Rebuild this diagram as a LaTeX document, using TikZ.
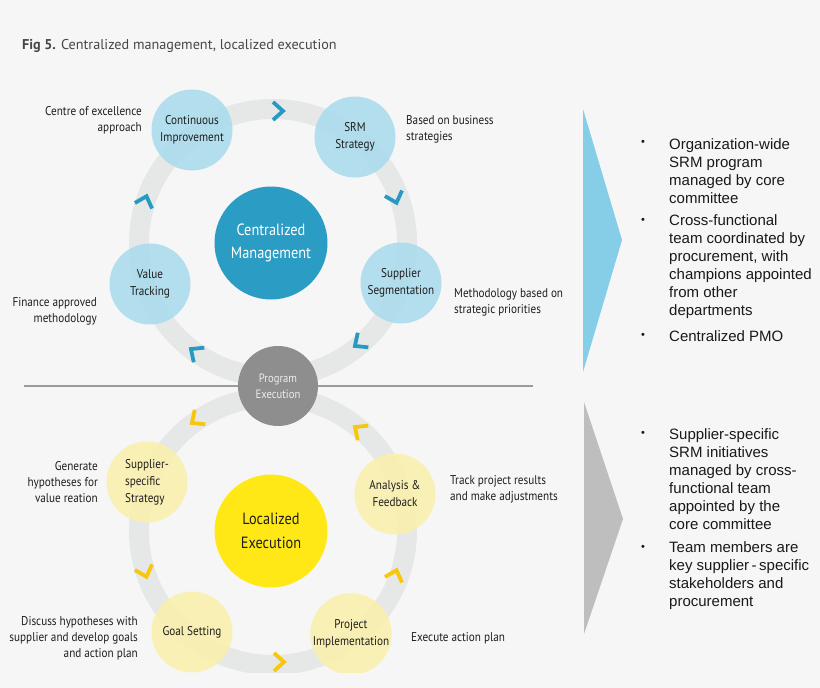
\documentclass[tikz,border=0pt]{standalone}
\usepackage{fontspec}
\setmainfont[FakeStretch=0.88]{PT Sans}
\newfontfamily\titlef{PT Sans}
\newfontfamily\arialf{Liberation Sans}
\usetikzlibrary{calc}
\definecolor{bgc}{RGB}{246,246,246}
\definecolor{ringc}{RGB}{230,232,232}
\definecolor{bluecirc}{RGB}{168,218,236}
\definecolor{bluemain}{RGB}{43,157,196}
\definecolor{chevb}{RGB}{40,154,194}
\definecolor{yelcirc}{RGB}{250,240,170}
\definecolor{yelmain}{RGB}{255,232,22}
\definecolor{chevy}{RGB}{246,199,10}
\definecolor{pegray}{RGB}{142,142,142}
\definecolor{linec}{RGB}{155,155,155}
\definecolor{triblue}{RGB}{134,205,232}
\definecolor{trigray}{RGB}{190,190,190}
\definecolor{labc}{RGB}{30,30,30}
\definecolor{titlec}{RGB}{70,70,70}
\tikzset{
  chevron/.pic={\draw[line width=3.8pt, line join=miter] (-5,-9) -- (5,0) -- (-5,9);},
  smallc/.style={circle, minimum size=81pt, inner sep=0pt, align=center, fill opacity=0.85, text opacity=1, text=labc, font=\fontsize{12.7}{17}\selectfont},
  smallb/.style={smallc, fill=bluecirc},
  smally/.style={smallc, fill=yelcirc},
  maincirc/.style={circle, minimum size=113pt, inner sep=0pt, align=center, font=\fontsize{16.3}{23.5}\selectfont},
  lbl/.style={inner sep=0pt, text=labc, font=\fontsize{12.7}{16}\selectfont},
  rtext/.style={inner sep=0pt, anchor=west, align=left, text=black!90, font=\arialf\fontsize{15}{18}\selectfont},
  bul/.style={inner sep=0pt, text=black!90, font=\arialf\fontsize{11}{18}\selectfont},
}
\begin{document}
\begin{tikzpicture}[x=1pt,y=-1pt]
\fill[bgc] (0,0) rectangle (820,688);
\useasboundingbox (0,0) rectangle (820,688);
% title
\node[anchor=west, inner sep=0pt, text=titlec, font=\titlef\fontsize{14.2}{17}\selectfont] (title) at (22,46) {\textbf{Fig 5.} Centralized management, localized execution};
\begin{scope}
\clip (0,0) rectangle (560,672);
% rings
\draw[ringc, line width=20pt] (273,243) circle[radius=134];
\draw[ringc, line width=20pt] (273,531) circle[radius=134];
% chevrons top (clockwise)
\pic[color=chevb, rotate=0] at (278,111) {chevron};
\pic[color=chevb, rotate=-72] at (395,198) {chevron};
\pic[color=chevb, rotate=-144] at (359,343) {chevron};
\pic[color=chevb, rotate=144] at (195,352) {chevron};
\pic[color=chevb, rotate=72] at (145,201) {chevron};
% chevrons bottom (counter-clockwise)
\pic[color=chevy, rotate=216] at (196,420) {chevron};
\pic[color=chevy, rotate=-72] at (145,572) {chevron};
\pic[color=chevy, rotate=0] at (279,662) {chevron};
\pic[color=chevy, rotate=72] at (395,575) {chevron};
\pic[color=chevy, rotate=144] at (359,430) {chevron};
% top small circles
\node[smallb] (ci) at (192,130) {Continuous\\Improvement};
\node[smallb] (srm) at (355,137) {SRM\\Strategy};
\node[smallb] (ss) at (401,283) {Supplier\\Segmentation};
\node[smallb] (vt) at (150,284) {Value\\Tracking};
% bottom small circles
\node[smally] (sss) at (147,482) {\begin{tabular}{@{}l@{}}Supplier-\\specific\\Strategy\end{tabular}};
\node[smally] (af) at (395,494) {Analysis \&\\Feedback};
\node[smally] (gs) at (192,632) {Goal Setting};
\node[smally] (pi) at (351,634) {Project\\Implementation};
% main circles
\node[maincirc, fill=bluemain, text=white] (cm) at (271,243) {Centralized\\Management};
\node[maincirc, fill=yelmain, text=labc] (le) at (271,531) {Localized\\Execution};
% separator
\coordinate (sepl) at (24,386);
\coordinate (sepr) at (533,386);
\draw[linec, line width=1.2pt] (sepl) -- (sepr);
% program execution
\node[circle, minimum size=80pt, inner sep=0pt, fill=pegray, text=white!93!black, align=center, font=\fontsize{12.1}{16}\selectfont] (pe) at (278,386) {Program\\Execution};
\end{scope}
% labels
\node[lbl, anchor=east, align=right] (l1) at (142,120) {Centre of excellence\\approach};
\node[lbl, anchor=west, align=left] (l2) at (406,129) {Based on business\\strategies};
\node[lbl, anchor=west, align=left] (l3) at (454,302) {Methodology based on\\strategic priorities};
\node[lbl, anchor=east, align=right] (l4) at (97,311) {Finance approved\\methodology};
\node[lbl, anchor=east, align=right] (l5) at (98,482) {Generate\\hypotheses for\\value reation};
\node[lbl, anchor=west, align=left] (l6) at (450,489) {Track project results\\and make adjustments};
\node[lbl, anchor=east, align=right] (l7) at (138,638) {Discuss hypotheses with\\supplier and develop goals\\and action plan};
\node[lbl, anchor=west, align=left] (l8) at (411,638) {Execute action plan};
% right arrows
\fill[triblue] (583,109) -- (622,240) -- (583,372) -- cycle;
\fill[trigray] (584,402) -- (623,519) -- (584,634) -- cycle;
% right texts
\node[bul] (b1) at (643,143) {•};
\node[rtext] (t1) at (669,171) {Organization-wide\\SRM program\\managed by core\\committee};
\node[bul] (b2) at (643,221) {•};
\node[rtext] (t2) at (669,266.5) {Cross-functional\\team coordinated by\\procurement, with\\champions appointed\\from other\\departments};
\node[bul] (b3) at (643,336) {•};
\node[rtext] (t3) at (669,336) {Centralized PMO};
\node[bul] (b4) at (643,434) {•};
\node[rtext] (t4) at (669,479) {Supplier-specific\\SRM initiatives\\managed by cross-\\functional team\\appointed by the\\core committee};
\node[bul] (b5) at (643,548) {•};
\node[rtext] (t5) at (669,576) {Team members are\\key supplier\,-\,specific\\stakeholders and\\procurement};
\end{tikzpicture}
\end{document}
